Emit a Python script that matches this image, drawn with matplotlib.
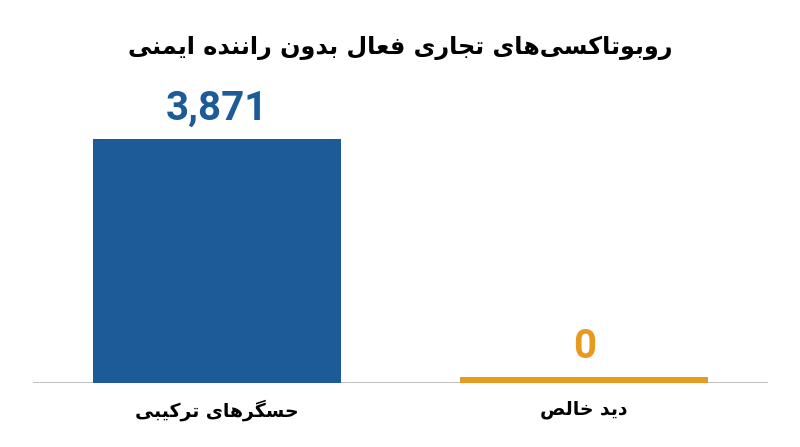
import numpy as np
import matplotlib
matplotlib.use("Agg")
from matplotlib import pyplot as plt

# Chart data
title = "روبوتاکسی‌های تجاری فعال بدون راننده ایمنی"
categories = ["حسگرهای ترکیبی", "دید خالص"]
values = [3871, 0]
bar_colors = ["#1d5b98", "#e89a1c"]

# matplotlib has no Arabic shaping, so map letters to presentation forms
# (isolated, final, initial, medial); right-joining letters only have two
FORMS = {
    "\u0627": ("\uFE8D", "\uFE8E"),
    "\u062F": ("\uFEA9", "\uFEAA"),
    "\u0631": ("\uFEAD", "\uFEAE"),
    "\u0648": ("\uFEED", "\uFEEE"),
    "\u0628": ("\uFE8F", "\uFE90", "\uFE91", "\uFE92"),
    "\u062A": ("\uFE95", "\uFE96", "\uFE97", "\uFE98"),
    "\u062C": ("\uFE9D", "\uFE9E", "\uFE9F", "\uFEA0"),
    "\u062D": ("\uFEA1", "\uFEA2", "\uFEA3", "\uFEA4"),
    "\u062E": ("\uFEA5", "\uFEA6", "\uFEA7", "\uFEA8"),
    "\u0633": ("\uFEB1", "\uFEB2", "\uFEB3", "\uFEB4"),
    "\u0635": ("\uFEB9", "\uFEBA", "\uFEBB", "\uFEBC"),
    "\u0639": ("\uFEC9", "\uFECA", "\uFECB", "\uFECC"),
    "\u0641": ("\uFED1", "\uFED2", "\uFED3", "\uFED4"),
    "\u0644": ("\uFEDD", "\uFEDE", "\uFEDF", "\uFEE0"),
    "\u0645": ("\uFEE1", "\uFEE2", "\uFEE3", "\uFEE4"),
    "\u0646": ("\uFEE5", "\uFEE6", "\uFEE7", "\uFEE8"),
    "\u0647": ("\uFEE9", "\uFEEA", "\uFEEB", "\uFEEC"),
    "\u06CC": ("\uFBFC", "\uFBFD", "\uFBFE", "\uFBFF"),
    "\u06A9": ("\uFB8E", "\uFB8F", "\uFB90", "\uFB91"),
    "\u06AF": ("\uFB92", "\uFB93", "\uFB94", "\uFB95"),
}


def shape(text):
    out = []
    for i, ch in enumerate(text):
        if ch not in FORMS:
            if ch != "\u200c":
                out.append(ch)
            continue
        prev = text[i - 1] if i > 0 else ""
        nxt = text[i + 1] if i + 1 < len(text) else ""
        joins_prev = prev in FORMS and len(FORMS[prev]) == 4
        joins_next = len(FORMS[ch]) == 4 and nxt in FORMS
        f = FORMS[ch]
        if joins_prev and joins_next:
            out.append(f[3])
        elif joins_prev:
            out.append(f[1])
        elif joins_next:
            out.append(f[2])
        else:
            out.append(f[0])
    return "".join(out)[::-1]


fa_font = ["DejaVu Sans"]

fig = plt.figure(figsize=(8, 4.47), dpi=100)
ax = fig.add_axes([0.04125, 0.1432, 0.91875, 0.678])

x = np.arange(len(categories))
# a zero value still gets a thin stub so the bar is visible
stub = max(values) * 0.025
heights = [max(v, stub) for v in values]
bars = ax.bar(x, heights, width=0.675, color=bar_colors, zorder=2)

for xi, h, v, c in zip(x, heights, values, bar_colors):
    ax.annotate(f"{v:,}", (xi, h), xytext=(0, 8), textcoords="offset points",
                ha="center", va="bottom", fontsize=29, fontweight="bold",
                family="Roboto", color=c)

ax.set_xlim(-0.5, 1.5)
ax.set_ylim(0, max(values) * 303 / 244)
ax.axhline(0, color="#b4b4b4", lw=1.2, zorder=1)

ax.set_xticks(x)
ax.set_xticklabels([shape(c) for c in categories], family=fa_font,
                   fontsize=13.5, fontweight="bold")
ax.tick_params(axis="x", length=0, pad=12)
ax.set_yticks([])
for s in ax.spines.values():
    s.set_visible(False)

fig.text(0.5, 1 - 48 / 447, shape(title), ha="center", va="center",
         family=fa_font, fontsize=17.2, fontweight="bold")

fig.savefig("out.png", dpi=100)
